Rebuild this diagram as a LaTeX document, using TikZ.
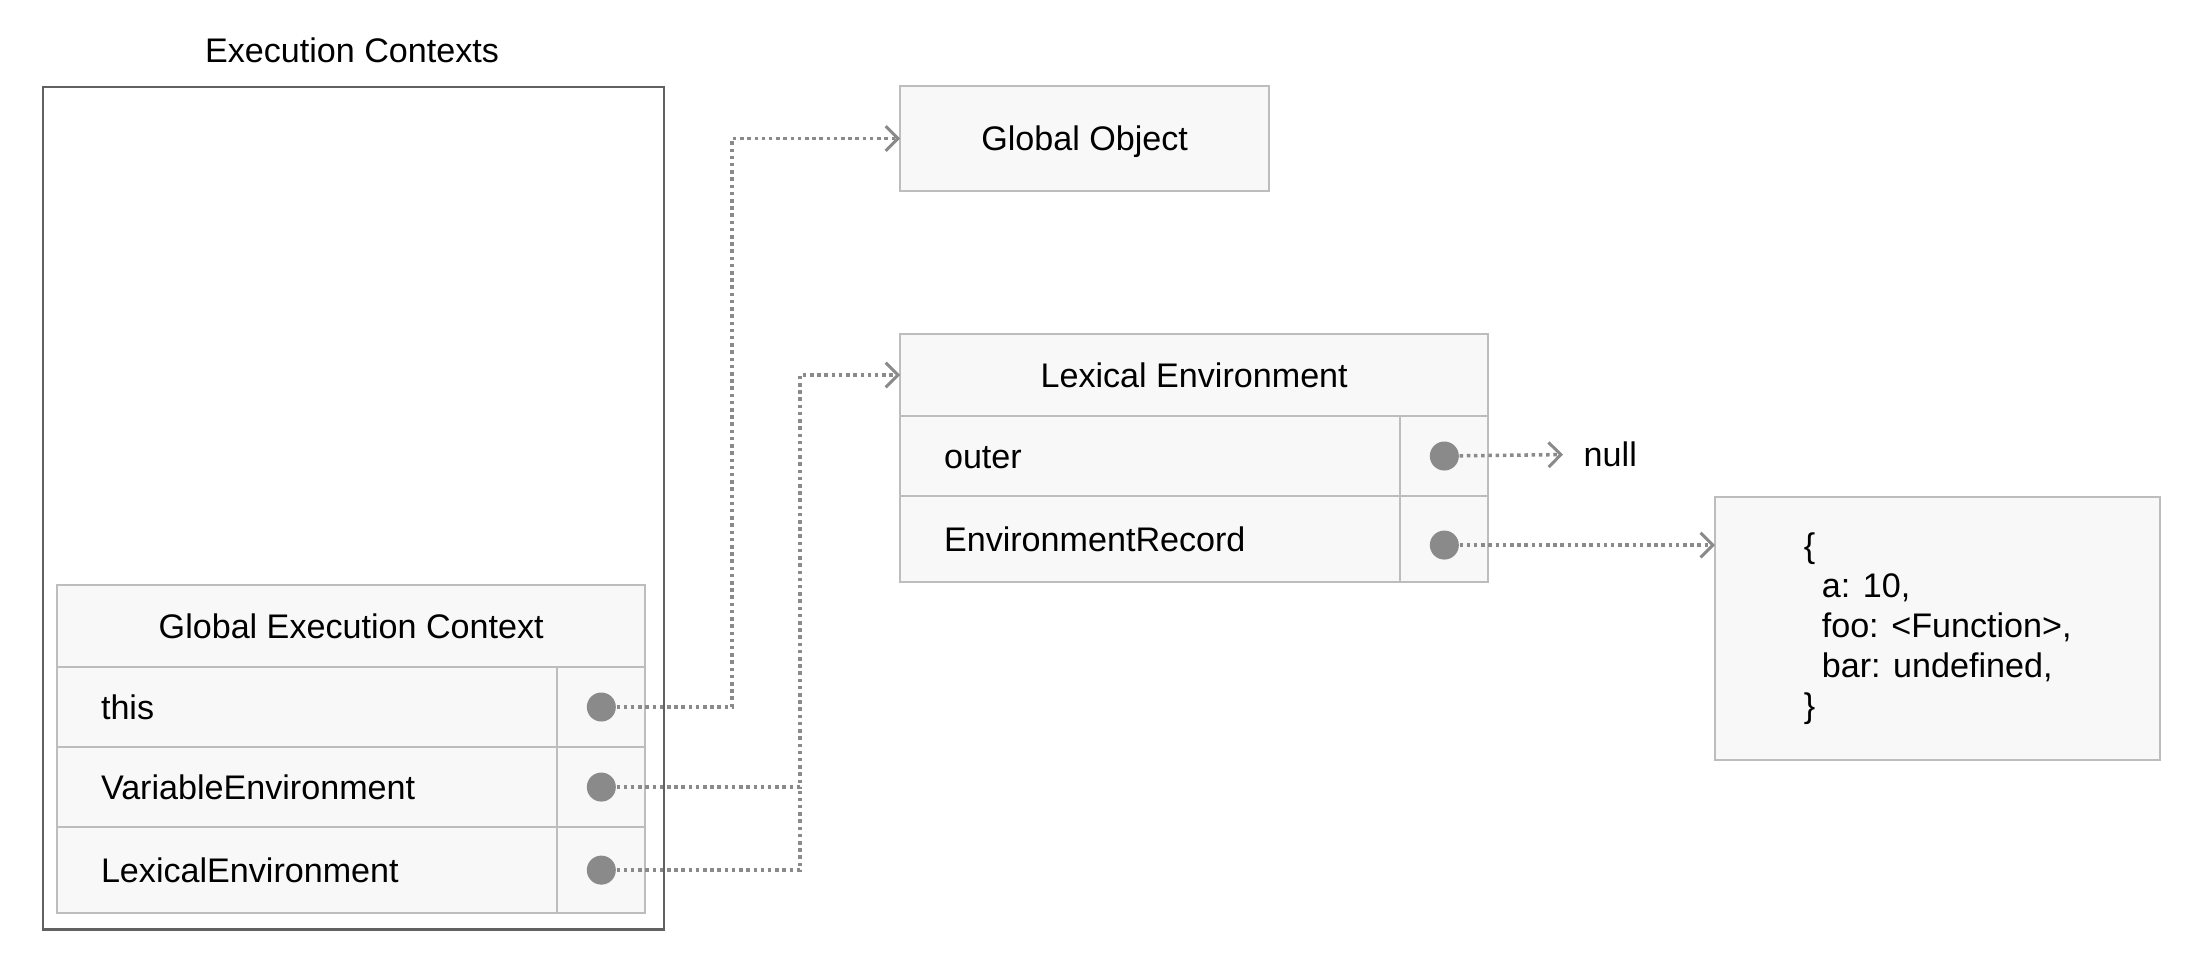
\documentclass[tikz,border=0pt]{standalone}
\usepackage{fontspec}
\setmainfont{Liberation Sans}
\usetikzlibrary{arrows.meta,positioning}
\definecolor{cellfill}{HTML}{F8F8F8}
\definecolor{cellline}{HTML}{BDBDBD}
\definecolor{boxline}{HTML}{616161}
\definecolor{ptrgray}{HTML}{8A8A8A}
\begin{document}
\begin{tikzpicture}[x=0.01cm, y=-0.01cm,
  every node/.style = {font=\fontsize{9.7}{11.4}\selectfont},
  box/.style = {draw=cellline, fill=cellfill, line width=0.55pt, anchor=north west, inner sep=0pt, outer sep=0pt},
  cell/.style = {box, text height=7pt, text depth=0pt},
  head/.style = {cell, minimum width=5.88cm, minimum height=0.82cm},
  field/.style = {cell, text width=4.12cm, inner xsep=0.44cm, align=left, minimum height=0.8cm},
  slot/.style = {cell, minimum width=0.88cm, minimum height=0.8cm},
  ptrdot/.style = {circle, fill=ptrgray, minimum size=0.29cm, inner sep=0pt},
  ptrline/.style = {draw=ptrgray, line width=1pt, dash pattern=on 1pt off 1.05pt},
  ptr/.style = {ptrline, -{Straight Barb[length=3.5pt,width=7pt,line width=0.85pt]}}]
\useasboundingbox (0,0) rectangle (2198,968);

% execution context stack
\node[draw=boxline, line width=0.6pt, anchor=north west, minimum width=6.21cm, minimum height=8.42cm, inner sep=0pt] (ctx) at (42,86) {};
\node (ctxlbl) at (352,50) {Execution Contexts};

% global execution context
\node[head] (gec) at (57,585) {Global Execution Context};
\node[field] (this) at (57,667) {this};
\node[slot, right=0pt of this] (thisslot) {};
\node[field, below=0pt of this] (var) {VariableEnvironment};
\node[slot, right=0pt of var] (varslot) {};
\node[field, below=0pt of var, minimum height=0.86cm] (lex) {LexicalEnvironment};
\node[slot, right=0pt of lex, minimum height=0.86cm] (lexslot) {};

% global object
\node[cell, minimum width=3.69cm, minimum height=1.05cm] (globj) at (900,86) {Global Object};

% lexical environment
\node[head] (lexenv) at (900,334) {Lexical Environment};
\node[field] (outer) at (900,416) {outer};
\node[slot, right=0pt of outer] (outerslot) {};
\node[field, below=0pt of outer, minimum height=0.86cm] (rec) {EnvironmentRecord};
\node[slot, right=0pt of rec, minimum height=0.86cm] (recslot) {};

\node[anchor=west, inner xsep=0.2cm, inner ysep=0pt] (null) at (1563,454) {null};
\node[box, minimum width=4.45cm, minimum height=2.63cm, align=left] (obj) at (1715,497)
  {\{\\\hspace{0.18cm}a: 10,\\\hspace{0.18cm}foo: <Function>,\\\hspace{0.18cm}bar: undefined,\\\}};

% pointers
\node[ptrdot] (thisdot) at (thisslot) {};
\node[ptrdot] (vardot) at (varslot) {};
\node[ptrdot] (lexdot) at (lexslot) {};
\node[ptrdot] (outerdot) at (outerslot) {};
\node[ptrdot, yshift=-0.06cm] (recdot) at (recslot) {};

\coordinate (bus1) at (732,0);
\coordinate (bus2) at (800,0);
\draw[ptr] (thisdot) -- (thisdot -| bus1) |- (globj);
\draw[ptr] (vardot) -- (vardot -| bus2) |- (lexenv);
\draw[ptrline] (lexdot) -| (vardot -| bus2);
\draw[ptr] (outerdot) -- (null);
\draw[ptr] (recdot) -- (recdot -| obj.west);
\end{tikzpicture}
\end{document}
